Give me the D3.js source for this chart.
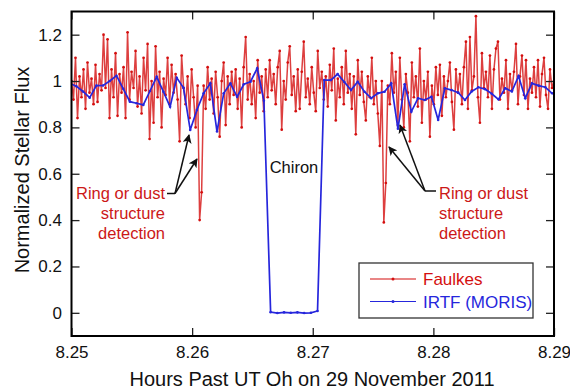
<!DOCTYPE html>
<html>
<head>
<meta charset="utf-8">
<script src="https://cdn.jsdelivr.net/npm/d3@7"></script>
<style>
  html, body { margin: 0; padding: 0; background: #fff; }
  svg { display: block; font-family: "Liberation Sans", Arial, Helvetica, sans-serif; }
</style>
</head>
<body>
<svg id="chart" width="570" height="391"></svg>
<script>
// ---------------- data ----------------
const xTicks = [8.25, 8.26, 8.27, 8.28, 8.29];
const xTickLabels = ["8.25", "8.26", "8.27", "8.28", "8.29"];
const yTicks = [0, 0.2, 0.4, 0.6, 0.8, 1, 1.2];
const yTickLabels = ["0", "0.2", "0.4", "0.6", "0.8", "1", "1.2"];

// Faulkes: evenly sampled from 8.25 to 8.29 h
const faulkesStart = 8.25, faulkesEnd = 8.29;
const faulkesFlux = [
  1.00, 0.92, 1.10, 0.84, 1.02, 0.93, 1.05, 0.88, 1.08, 0.95,
  1.01, 0.90, 1.07, 0.91, 1.03, 0.96, 1.20, 0.97, 1.18, 0.84,
  1.05, 0.93, 1.12, 0.85, 1.03, 0.95, 1.06, 0.84, 1.21, 0.92,
  1.04, 0.97, 1.13, 0.89, 1.02, 0.86, 1.10, 0.96, 1.16, 0.75,
  1.00, 0.82, 1.15, 0.93, 1.04, 0.80, 1.01, 0.94, 1.10, 0.90,
  1.07, 0.95, 1.03, 0.92, 0.74, 1.11, 0.97, 0.90, 1.02, 0.84,
  1.05, 0.93, 0.80, 0.98, 0.40, 0.52, 0.98, 0.88, 1.06, 0.92,
  1.01, 0.86, 1.04, 0.93, 0.76, 1.00, 1.08, 0.81, 1.02, 0.90,
  1.04, 0.94, 1.05, 0.88, 1.01, 0.80, 1.06, 1.19, 0.92, 1.03,
  0.90, 1.00, 0.84, 1.09, 0.95, 1.02, 0.87, 1.05, 0.93, 1.09,
  0.96, 1.03, 0.90, 1.06, 1.13, 0.79, 1.00, 0.92, 1.08, 1.15,
  0.94, 1.02, 0.87, 1.05, 0.88, 1.04, 1.17, 0.93, 1.01, 0.90,
  1.06, 0.95, 0.87, 1.13, 0.97, 1.04, 0.92, 1.02, 0.89, 1.07,
  0.96, 1.14, 0.83, 1.01, 0.93, 1.06, 0.90, 1.13, 0.95, 1.03,
  0.88, 1.02, 0.77, 1.09, 0.94, 1.04, 0.91, 0.83, 1.02, 0.93,
  1.10, 0.90, 1.00, 0.86, 0.72, 1.00, 0.39, 0.56, 0.98, 0.90,
  1.12, 0.95, 1.04, 0.81, 1.10, 0.92, 0.80, 1.03, 0.95, 0.74,
  1.08, 0.93, 1.02, 0.89, 1.14, 0.82, 1.00, 0.92, 1.04, 0.76,
  0.98, 0.90, 1.06, 0.94, 1.07, 0.85, 1.02, 0.93, 1.00, 1.08,
  0.91, 0.79, 1.05, 0.95, 1.03, 0.90, 1.06, 1.17, 0.88, 1.19,
  0.96, 1.02, 1.28, 0.93, 0.82, 1.12, 0.97, 1.04, 0.93, 1.11,
  0.88, 1.05, 1.14, 1.17, 0.92, 1.01, 0.95, 1.09, 0.88, 1.03,
  0.96, 1.04, 1.16, 0.90, 1.02, 1.11, 0.94, 1.09, 0.88, 1.01,
  0.95, 1.06, 0.93, 1.09, 0.89, 1.03, 1.10, 0.94, 0.88, 1.05,
  0.97, 1.00
];

// IRTF (MORIS): 2-second cadence
const irtfStart = 8.24984, irtfStep = 2 / 3600;
const irtfFlux = [
  0.990, 0.978, 0.955, 0.928, 0.980, 0.981, 1.000, 1.023, 0.967, 0.911,
  0.904, 0.897, 0.957, 1.018, 0.954, 0.889, 1.014, 0.971, 0.789, 0.875,
  0.947, 0.990, 0.782, 0.947, 0.990, 0.932, 0.986, 0.997, 1.055, 0.915,
  0.003, -0.001, 0.002, 0.000, 0.002, -0.001, 0.000, 0.008,
  1.004, 1.004, 1.030, 0.996, 0.961, 0.997, 0.954, 0.926, 0.947, 0.954,
  0.990, 0.794, 0.986, 0.868, 0.926, 0.918, 0.932, 0.832, 0.969, 0.961,
  0.950, 0.918, 0.955, 0.973, 0.965, 0.945, 0.921, 0.969, 0.955, 1.021,
  0.926, 0.990, 0.980, 0.973, 0.947, 0.940
];

const seriesNames = ["Faulkes", "IRTF (MORIS)"];
const seriesColors = ["#d40f0f", "#2626dc"];

// ---------------- build ----------------
const faulkesData = faulkesFlux.map((v, i) => ({
  t: faulkesStart + i * (faulkesEnd - faulkesStart) / (faulkesFlux.length - 1), v }));
const irtfData = irtfFlux.map((v, i) => ({ t: irtfStart + i * irtfStep, v }));

const svg = d3.select("#chart");
const L = 71.5, R = 554, T = 11.5, B = 336;
const x = d3.scaleLinear().domain([8.25, 8.29]).range([L, R]);
const y = d3.scaleLinear().domain([-0.1, 1.3]).range([B, T]);

const defs = svg.append("defs");
defs.append("clipPath").attr("id", "plotclip")
  .append("rect").attr("x", L).attr("y", T).attr("width", R - L).attr("height", B - T);

const line = d3.line().x(d => x(d.t)).y(d => y(d.v));
const plot = svg.append("g").attr("clip-path", "url(#plotclip)");

// Faulkes
plot.append("path").datum(faulkesData).attr("d", line)
  .attr("fill", "none").attr("stroke", seriesColors[0]).attr("stroke-width", 1.5)
  .attr("stroke-opacity", 0.8);
plot.append("g").selectAll("circle").data(faulkesData).join("circle")
  .attr("cx", d => x(d.t)).attr("cy", d => y(d.v)).attr("r", 1.35)
  .attr("fill", seriesColors[0]);

// IRTF
plot.append("path").datum(irtfData).attr("d", line)
  .attr("fill", "none").attr("stroke", seriesColors[1]).attr("stroke-width", 1.7);
plot.append("g").selectAll("circle").data(irtfData).join("circle")
  .attr("cx", d => x(d.t)).attr("cy", d => y(d.v)).attr("r", 1.3)
  .attr("fill", seriesColors[1]);

// ---------------- axes ----------------
const fontSize = 17;
const ax = svg.append("g");
const axLeft = ax.append("g").attr("transform", `translate(${L},0)`)
  .call(d3.axisLeft(y).tickValues(yTicks).tickSize(-8).tickPadding(9.5)
    .tickFormat((d, i) => yTickLabels[i]));
const axBottom = ax.append("g").attr("transform", `translate(0,${B})`)
  .call(d3.axisBottom(x).tickValues(xTicks).tickSize(-8).tickPadding(10)
    .tickFormat((d, i) => xTickLabels[i]));
const axRight = ax.append("g").attr("transform", `translate(${R},0)`)
  .call(d3.axisRight(y).tickValues(yTicks).tickSize(-8).tickFormat(""));
const axTop = ax.append("g").attr("transform", `translate(0,${T})`)
  .call(d3.axisTop(x).tickValues(xTicks).tickSize(-8).tickFormat(""));
[axLeft, axBottom, axRight, axTop].forEach(g => {
  g.select(".domain").remove();
  g.selectAll(".tick line").attr("stroke", "#222").attr("stroke-width", 1.3);
  g.selectAll("text").attr("font-size", fontSize).attr("fill", "#111")
    .attr("font-family", "Liberation Sans, Arial, sans-serif");
});

svg.append("rect").attr("x", L).attr("y", T).attr("width", R - L).attr("height", B - T)
  .attr("fill", "none").attr("stroke", "#000").attr("stroke-width", 2);

// titles
svg.append("text").attr("x", 312).attr("y", 386).attr("text-anchor", "middle")
  .attr("font-size", 20).attr("fill", "#111")
  .text("Hours Past UT Oh on 29 November 2011");
svg.append("text").attr("transform", "translate(29,170) rotate(-90)")
  .attr("text-anchor", "middle").attr("font-size", 20).attr("fill", "#111")
  .text("Normalized Stellar Flux");

// ---------------- annotations ----------------
svg.append("text").attr("x", 294).attr("y", 173).attr("text-anchor", "middle")
  .attr("font-size", 16.5).attr("fill", "#111").text("Chiron");

const annLines = ["Ring or dust", "structure", "detection"];
const annColor = "#cc1818";
function annotation(tx, anchor) {
  const g = svg.append("text").attr("font-size", 16.5).attr("fill", annColor)
    .attr("text-anchor", anchor);
  annLines.forEach((s, i) => g.append("tspan").attr("x", tx).attr("y", 199 + i * 20).text(s));
}
annotation(165, "end");
annotation(439, "start");

defs.append("marker").attr("id", "arrow").attr("viewBox", "0 0 10 10")
  .attr("refX", 9).attr("refY", 5).attr("markerWidth", 9).attr("markerHeight", 9)
  .attr("markerUnits", "userSpaceOnUse").attr("orient", "auto")
  .append("path").attr("d", "M0,0 L10,5 L0,10 L2.5,5 Z").attr("fill", "#111");

function arrowGroup(textEnd, junction, tips) {
  svg.append("line").attr("x1", textEnd[0]).attr("y1", textEnd[1])
    .attr("x2", junction[0]).attr("y2", junction[1])
    .attr("stroke", "#111").attr("stroke-width", 1.5);
  tips.forEach(tp => svg.append("line").attr("x1", junction[0]).attr("y1", junction[1])
    .attr("x2", tp[0]).attr("y2", tp[1]).attr("stroke", "#111").attr("stroke-width", 1.5)
    .attr("marker-end", "url(#arrow)"));
}
arrowGroup([167, 193.5], [175, 193.5], [[189, 135], [197, 159]]);
arrowGroup([436, 191], [425, 191], [[400, 125], [389, 147]]);

// ---------------- legend ----------------
const lg = svg.append("g");
lg.append("rect").attr("x", 359).attr("y", 263).attr("width", 174).attr("height", 55)
  .attr("fill", "#fff").attr("stroke", "#333").attr("stroke-width", 1.3);
seriesNames.forEach((name, i) => {
  const yy = 279 + i * 22.5;
  lg.append("line").attr("x1", 370).attr("x2", 416).attr("y1", yy).attr("y2", yy)
    .attr("stroke", seriesColors[i]).attr("stroke-width", 1.2);
  lg.append("circle").attr("cx", 393).attr("cy", yy).attr("r", 1.5).attr("fill", seriesColors[i]);
  lg.append("text").attr("x", 423).attr("y", yy + 6).attr("font-size", 17)
    .attr("fill", seriesColors[i]).text(name);
});
</script>
</body>
</html>
